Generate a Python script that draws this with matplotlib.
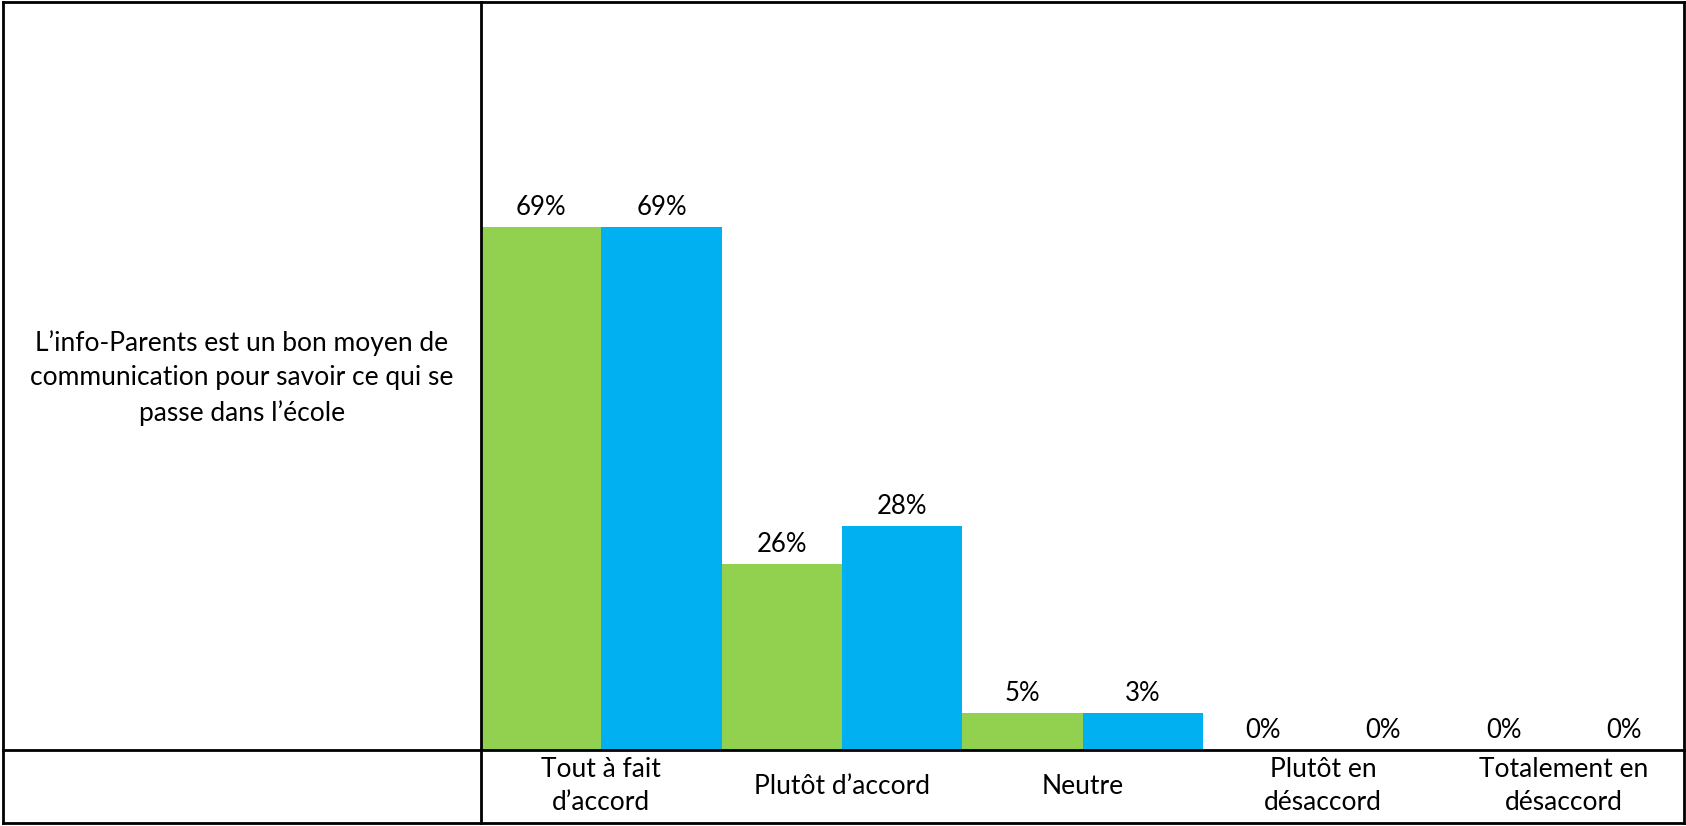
import numpy as np
import matplotlib.pyplot as plt
from matplotlib.lines import Line2D

plt.rcParams['font.family'] = ['Lato', 'DejaVu Sans']

categories = ["Tout à fait\nd’accord", "Plutôt d’accord", "Neutre",
              "Plutôt en\ndésaccord", "Totalement en\ndésaccord"]
# bar heights as drawn in the picture (in %)
green_heights = [69, 24.6, 4.9, 0, 0]
blue_heights = [69, 29.6, 4.9, 0, 0]
# printed labels
green_labels = ["69%", "26%", "5%", "0%", "0%"]
blue_labels = ["69%", "28%", "3%", "0%", "0%"]
question = "L’info-Parents est un bon moyen de\ncommunication pour savoir ce qui se\npasse dans l’école"

W, H = 1686, 826
fig = plt.figure(figsize=(W / 100, H / 100), dpi=100)

# table frame
left, right, top, bottom = 3, 1684, 2, 823
x_split, y_split = 481, 750


def fx(px):
    return px / W


def fy(py):
    return 1 - py / H


ax = fig.add_axes([fx(x_split), fy(y_split), fx(right) - fx(x_split), fy(top) - fy(y_split)])

x = np.arange(len(categories))
w = 0.5
bars_g = ax.bar(x - w / 2, green_heights, w, color="#92D050")
bars_b = ax.bar(x + w / 2, blue_heights, w, color="#00B0F0")

fs = 19
for bars, labels in [(bars_g, green_labels), (bars_b, blue_labels)]:
    for b, lab in zip(bars, labels):
        ax.annotate(lab, (b.get_x() + b.get_width() / 2, b.get_height()),
                    xytext=(0, 5), textcoords="offset points",
                    ha="center", va="bottom", fontsize=fs - 0.5)

ax.set_xlim(-0.5, len(categories) - 0.5)
ax.set_ylim(0, 98.7)
ax.set_yticks([])
ax.set_xticks(x)
ax.set_xticklabels(categories, fontsize=fs, linespacing=1.38)
ax.tick_params(axis="x", length=0, pad=26)
for lab in ax.get_xticklabels():
    lab.set_va("center")
for s in ax.spines.values():
    s.set_visible(False)

fig.text(fx((left + x_split) / 2), fy(378), question, ha="center", va="center",
         fontsize=fs, linespacing=1.47)

lw = 2
lines = [
    ([left, right], [top, top]),
    ([left, right], [bottom, bottom]),
    ([left, left], [top, bottom]),
    ([right, right], [top, bottom]),
    ([x_split, x_split], [top, bottom]),
    ([left, right], [y_split, y_split]),
]
for xs, ys in lines:
    fig.add_artist(Line2D([fx(v) for v in xs], [fy(v) for v in ys], color="black", lw=lw))

fig.savefig("out.png", dpi=100)
